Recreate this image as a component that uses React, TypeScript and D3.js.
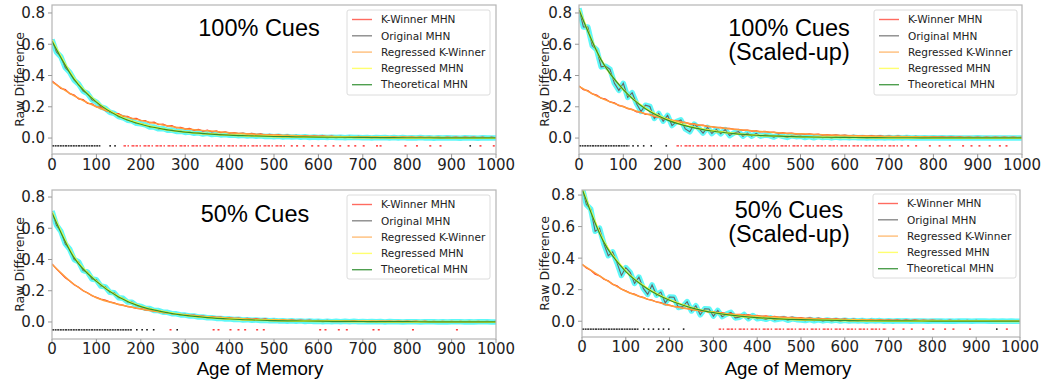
import * as d3 from 'd3'

// sample grids (age of memory)
const agesFine = d3.range(0, 1001, 10)
const agesCoarse = d3.range(0, 1001, 50)

const seriesNames = ['K-Winner MHN', 'Original MHN', 'Regressed K-Winner', 'Regressed MHN', 'Theoretical MHN']
const xTicks = [0, 100, 200, 300, 400, 500, 600, 700, 800, 900, 1000]
const yTicks = [0, 0.2, 0.4, 0.6, 0.8]

// ---- 100% Cues ----
const cues100Original = [
  0.63, 0.55, 0.52, 0.45, 0.42, 0.37, 0.345, 0.30, 0.285, 0.245, 0.23,
  0.20, 0.19, 0.165, 0.158, 0.137, 0.13, 0.114, 0.11, 0.094, 0.091,
  0.085, 0.071, 0.07, 0.059, 0.061, 0.05, 0.051, 0.042, 0.044, 0.036,
  0.038, 0.031, 0.034, 0.026, 0.03, 0.023, 0.026, 0.02, 0.023, 0.018,
  0.019, 0.015, 0.018, 0.013, 0.016, 0.012, 0.014, 0.010, 0.012, 0.009,
  0.011, 0.007, 0.010, 0.006, 0.009, 0.005, 0.008, 0.004, 0.007, 0.004,
  0.006, 0.003, 0.006, 0.003, 0.005, 0.002, 0.005, 0.003, 0.004, 0.002,
  0.004, 0.001, 0.004, 0.002, 0.003, 0.001, 0.003, 0.000, 0.003, 0.001,
  0.002, 0.000, 0.003, 0.001, 0.002, -0.001, 0.002, 0.000, 0.002, 0.000,
  0.001, -0.001, 0.002, 0.000, 0.001, -0.001, 0.002, 0.000, 0.001, 0.000
]
const cues100KWinner = [
  0.365, 0.342, 0.318, 0.31, 0.284, 0.275, 0.25, 0.246, 0.222, 0.218, 0.20,
  0.196, 0.176, 0.173, 0.156, 0.156, 0.139, 0.139, 0.124, 0.126, 0.112,
  0.111, 0.098, 0.101, 0.086, 0.089, 0.076, 0.079, 0.066, 0.068, 0.058,
  0.061, 0.05, 0.055, 0.045, 0.05, 0.04, 0.045, 0.035, 0.039, 0.032,
  0.035, 0.028, 0.032, 0.025, 0.03, 0.022, 0.026, 0.019, 0.023, 0.017,
  0.021, 0.014, 0.019, 0.012, 0.017, 0.011, 0.015, 0.009, 0.014, 0.010,
  0.013, 0.007, 0.012, 0.006, 0.011, 0.006, 0.010, 0.005, 0.010, 0.006,
  0.009, 0.004, 0.009, 0.003, 0.008, 0.004, 0.008, 0.003, 0.007, 0.004,
  0.007, 0.002, 0.007, 0.002, 0.006, 0.003, 0.006, 0.001, 0.006, 0.002,
  0.006, 0.001, 0.005, 0.002, 0.005, 0.001, 0.005, 0.000, 0.005, 0.001
]
const cues100RegKW = [0.36, 0.27, 0.2, 0.15, 0.113, 0.084, 0.06, 0.046, 0.034, 0.026, 0.019, 0.015, 0.012, 0.009, 0.007, 0.006, 0.005, 0.004, 0.003, 0.003, 0.002]
const cues100RegMHN = [0.625, 0.38, 0.232, 0.142, 0.09, 0.058, 0.039, 0.027, 0.019, 0.014, 0.010, 0.008, 0.006, 0.005, 0.004, 0.003, 0.002, 0.002, 0.001, 0.001, 0.001]
const cues100Theory = [0.62, 0.375, 0.23, 0.14, 0.088, 0.057, 0.038, 0.027, 0.019, 0.014, 0.010, 0.008, 0.006, 0.005, 0.004, 0.003, 0.002, 0.002, 0.001, 0.001, 0.0005]
const cues100BlackRuns = [[0, 109]]
const cues100BlackDots = [131, 142, 942]
const cues100RedRuns = [[161, 529]]
const cues100RedDots = [540, 552, 567, 586, 600, 616, 634, 649, 668, 683, 702, 732, 740, 796, 822, 852, 875, 965, 995]

// ---- 100% Cues (Scaled-up) ----
const scaled100Original = [
  0.83, 0.71, 0.71, 0.59, 0.565, 0.455, 0.46, 0.44, 0.35, 0.305, 0.35,
  0.26, 0.29, 0.22, 0.17, 0.21, 0.202, 0.126, 0.157, 0.108, 0.145,
  0.08, 0.105, 0.116, 0.058, 0.04, 0.089, 0.063, 0.032, 0.068, 0.029,
  0.055, 0.027, 0.054, 0.016, 0.033, 0.041, 0.012, 0.032, 0.012, 0.03,
  0.012, 0.02, 0.016, 0.006, 0.019, 0.011, 0.004, 0.015, 0.009, 0.012,
  0.003, 0.01, 0.002, 0.009, 0.003, 0.007, 0.001, 0.007, 0.002, 0.005,
  0.001, 0.005, 0.002, 0.004, 0.000, 0.004, 0.001, 0.003, 0.000, 0.003,
  0.001, 0.003, 0.000, 0.003, 0.001, 0.002, 0.000, 0.002, 0.001, 0.002,
  0.000, 0.002, 0.001, 0.002, 0.000, 0.001, 0.001, 0.001, 0.000, 0.002,
  0.001, 0.001, 0.000, 0.001, 0.001, 0.001, 0.000, 0.001, 0.001, 0.000
]
const scaled100KWinner = [
  0.333, 0.31, 0.303, 0.282, 0.275, 0.255, 0.249, 0.231, 0.225, 0.208, 0.203,
  0.188, 0.183, 0.168, 0.166, 0.152, 0.151, 0.137, 0.136, 0.124, 0.122,
  0.112, 0.11, 0.1, 0.1, 0.09, 0.091, 0.082, 0.083, 0.074, 0.073,
  0.067, 0.068, 0.061, 0.062, 0.055, 0.056, 0.049, 0.051, 0.044, 0.045,
  0.04, 0.042, 0.036, 0.038, 0.032, 0.034, 0.029, 0.032, 0.026, 0.028,
  0.024, 0.027, 0.022, 0.025, 0.019, 0.022, 0.017, 0.02, 0.015, 0.018,
  0.014, 0.017, 0.012, 0.016, 0.011, 0.015, 0.010, 0.013, 0.009, 0.012,
  0.008, 0.012, 0.007, 0.011, 0.006, 0.010, 0.006, 0.009, 0.005, 0.008,
  0.005, 0.008, 0.004, 0.007, 0.004, 0.007, 0.003, 0.006, 0.003, 0.006,
  0.003, 0.006, 0.002, 0.005, 0.002, 0.005, 0.002, 0.005, 0.002, 0.004
]
const scaled100RegKW = [0.33, 0.255, 0.2, 0.155, 0.12, 0.093, 0.072, 0.056, 0.044, 0.034, 0.027, 0.021, 0.016, 0.013, 0.01, 0.008, 0.006, 0.005, 0.004, 0.003, 0.003]
const scaled100RegMHN = [0.825, 0.5, 0.31, 0.19, 0.118, 0.074, 0.046, 0.029, 0.018, 0.012, 0.008, 0.005, 0.004, 0.003, 0.002, 0.002, 0.001, 0.001, 0.001, 0.001, 0.0005]
const scaled100Theory = [0.82, 0.5, 0.31, 0.187, 0.115, 0.072, 0.045, 0.028, 0.018, 0.012, 0.008, 0.005, 0.004, 0.003, 0.002, 0.002, 0.001, 0.001, 0.001, 0.0005, 0.0005]
const scaled100BlackRuns = [[0, 114]]
const scaled100BlackDots = [122, 133, 146, 163, 197]
const scaled100RedRuns = [[220, 731]]
const scaled100RedDots = [743, 761, 792, 814, 837, 867, 886, 904, 927, 950, 965]

// ---- 50% Cues ----
const cues50Original = [
  0.71, 0.62, 0.58, 0.50, 0.465, 0.40, 0.385, 0.33, 0.32, 0.275, 0.27,
  0.23, 0.225, 0.19, 0.187, 0.155, 0.152, 0.128, 0.127, 0.105, 0.10,
  0.088, 0.087, 0.074, 0.073, 0.063, 0.062, 0.053, 0.052, 0.045, 0.044,
  0.038, 0.038, 0.032, 0.032, 0.027, 0.027, 0.023, 0.023, 0.019, 0.02,
  0.016, 0.017, 0.013, 0.015, 0.011, 0.013, 0.009, 0.011, 0.008, 0.010,
  0.007, 0.008, 0.005, 0.008, 0.004, 0.007, 0.003, 0.006, 0.003, 0.005,
  0.002, 0.005, 0.002, 0.004, 0.002, 0.004, 0.001, 0.004, 0.001, 0.003,
  0.001, 0.003, 0.001, 0.003, 0.000, 0.003, 0.001, 0.002, 0.000, 0.002,
  0.001, 0.002, 0.000, 0.002, 0.001, 0.002, 0.000, 0.002, 0.000, 0.001,
  0.001, 0.001, 0.000, 0.002, 0.000, 0.001, 0.001, 0.001, 0.000, 0.000
]
const cues50KWinner = [
  0.372, 0.34, 0.312, 0.283, 0.263, 0.238, 0.222, 0.2, 0.187, 0.168, 0.157,
  0.146, 0.14, 0.129, 0.123, 0.111, 0.108, 0.098, 0.095, 0.087, 0.085,
  0.077, 0.076, 0.069, 0.068, 0.06, 0.06, 0.053, 0.054, 0.047, 0.048,
  0.042, 0.043, 0.037, 0.038, 0.033, 0.034, 0.029, 0.031, 0.025, 0.027,
  0.022, 0.025, 0.019, 0.023, 0.017, 0.021, 0.015, 0.019, 0.013, 0.017,
  0.012, 0.015, 0.010, 0.014, 0.009, 0.012, 0.008, 0.011, 0.007, 0.010,
  0.006, 0.010, 0.005, 0.009, 0.005, 0.008, 0.004, 0.008, 0.004, 0.007,
  0.003, 0.007, 0.003, 0.006, 0.003, 0.006, 0.002, 0.006, 0.002, 0.005,
  0.002, 0.005, 0.001, 0.005, 0.001, 0.004, 0.001, 0.004, 0.001, 0.004,
  0.001, 0.004, 0.000, 0.003, 0.001, 0.003, 0.000, 0.003, 0.000, 0.003
]
const cues50RegKW = [0.37, 0.24, 0.155, 0.113, 0.083, 0.061, 0.045, 0.033, 0.025, 0.018, 0.013, 0.01, 0.008, 0.006, 0.005, 0.004, 0.003, 0.002, 0.002, 0.001, 0.001]
const cues50RegMHN = [0.705, 0.415, 0.262, 0.162, 0.1, 0.066, 0.043, 0.028, 0.019, 0.013, 0.009, 0.007, 0.005, 0.004, 0.003, 0.002, 0.002, 0.001, 0.001, 0.001, 0.0005]
const cues50Theory = [0.70, 0.41, 0.26, 0.16, 0.098, 0.065, 0.042, 0.028, 0.019, 0.013, 0.009, 0.007, 0.005, 0.004, 0.003, 0.002, 0.002, 0.001, 0.001, 0.001, 0.0005]
const cues50BlackRuns = [[0, 180]]
const cues50BlackDots = [191, 203, 214, 229, 282]
const cues50RedRuns: number[][] = []
const cues50RedDots = [267, 364, 375, 402, 420, 435, 462, 477, 604, 616, 646, 664, 724, 736, 813, 912]

// ---- 50% Cues (Scaled-up) ----
const scaled50Original = [
  0.85, 0.74, 0.71, 0.57, 0.59, 0.49, 0.415, 0.44, 0.37, 0.29, 0.34,
  0.31, 0.24, 0.28, 0.208, 0.17, 0.23, 0.165, 0.185, 0.116, 0.153,
  0.152, 0.087, 0.093, 0.124, 0.065, 0.098, 0.041, 0.079, 0.078, 0.032,
  0.068, 0.029, 0.045, 0.056, 0.021, 0.025, 0.043, 0.016, 0.036, 0.016,
  0.02, 0.012, 0.022, 0.009, 0.014, 0.018, 0.006, 0.015, 0.01, 0.008,
  0.004, 0.011, 0.003, 0.009, 0.002, 0.008, 0.002, 0.007, 0.001, 0.006,
  0.001, 0.005, 0.001, 0.005, 0.000, 0.004, 0.001, 0.004, 0.000, 0.003,
  0.000, 0.003, 0.001, 0.003, 0.000, 0.002, 0.001, 0.002, 0.000, 0.002,
  0.001, 0.002, 0.000, 0.002, 0.000, 0.001, 0.001, 0.001, 0.000, 0.001,
  0.001, 0.001, 0.000, 0.001, 0.000, 0.001, 0.000, 0.001, 0.000, 0.000
]
const scaled50KWinner = [
  0.362, 0.338, 0.323, 0.298, 0.288, 0.266, 0.256, 0.234, 0.224, 0.203, 0.193,
  0.178, 0.172, 0.158, 0.152, 0.139, 0.134, 0.122, 0.118, 0.106, 0.102,
  0.093, 0.091, 0.083, 0.082, 0.073, 0.073, 0.065, 0.066, 0.058, 0.06,
  0.052, 0.054, 0.046, 0.049, 0.041, 0.044, 0.037, 0.041, 0.033, 0.037,
  0.03, 0.034, 0.027, 0.031, 0.024, 0.028, 0.022, 0.026, 0.019, 0.023,
  0.017, 0.021, 0.015, 0.019, 0.013, 0.017, 0.012, 0.016, 0.010, 0.014,
  0.009, 0.013, 0.008, 0.012, 0.007, 0.011, 0.006, 0.010, 0.005, 0.009,
  0.005, 0.009, 0.004, 0.008, 0.004, 0.008, 0.003, 0.007, 0.003, 0.007,
  0.003, 0.006, 0.002, 0.006, 0.002, 0.005, 0.002, 0.005, 0.001, 0.005,
  0.001, 0.004, 0.001, 0.004, 0.001, 0.004, 0.001, 0.003, 0.000, 0.003
]
const scaled50RegKW = [0.36, 0.27, 0.19, 0.14, 0.10, 0.075, 0.057, 0.043, 0.033, 0.025, 0.019, 0.014, 0.011, 0.008, 0.006, 0.005, 0.004, 0.003, 0.002, 0.002, 0.001]
const scaled50RegMHN = [0.845, 0.505, 0.318, 0.207, 0.135, 0.086, 0.055, 0.035, 0.023, 0.015, 0.010, 0.007, 0.005, 0.003, 0.002, 0.002, 0.001, 0.001, 0.001, 0.0005, 0.0005]
const scaled50Theory = [0.84, 0.50, 0.315, 0.205, 0.133, 0.085, 0.054, 0.035, 0.023, 0.015, 0.010, 0.007, 0.005, 0.003, 0.002, 0.002, 0.001, 0.001, 0.001, 0.0005, 0.0005]
const scaled50BlackRuns = [[0, 129]]
const scaled50BlackDots = [141, 152, 163, 175, 186, 198, 232, 947]
const scaled50RedRuns = [[312, 696]]
const scaled50RedDots = [711, 734, 753, 779, 802, 829, 848, 886, 970]

const MARK_Y = -0.05

const COLORS = {
  kw: '#ff3b2b',
  orig: '#666666',
  band: '#19f5f5',
  regKW: '#ff9e3d',
  regMHN: '#ffff3a',
  theory: '#2f8f2f',
}
const LEGEND_COLORS = ['#ff6b60', '#8a8a8a', '#ffbe7a', '#ffff70', '#4f9f4f']

const panels = [
  {
    box: [52, 496, 5, 154], yDomain: [-0.102, 0.851],
    title: ['100% Cues'], titleX: 259, titleY: 36,
    legend: [347, 10], xLabel: false,
    orig: cues100Original, kw: cues100KWinner, regKW: cues100RegKW, regMHN: cues100RegMHN, theory: cues100Theory,
    blackRuns: cues100BlackRuns, blackDots: cues100BlackDots, redRuns: cues100RedRuns, redDots: cues100RedDots,
  },
  {
    box: [579, 1022, 5, 154], yDomain: [-0.102, 0.851],
    title: ['100% Cues', '(Scaled-up)'], titleX: 789, titleY: 36,
    legend: [874, 10], xLabel: false,
    orig: scaled100Original, kw: scaled100KWinner, regKW: scaled100RegKW, regMHN: scaled100RegMHN, theory: scaled100Theory,
    blackRuns: scaled100BlackRuns, blackDots: scaled100BlackDots, redRuns: scaled100RedRuns, redDots: scaled100RedDots,
  },
  {
    box: [52, 496, 190, 339], yDomain: [-0.109, 0.845],
    title: ['50% Cues'], titleX: 255, titleY: 222,
    legend: [347, 195], xLabel: true,
    orig: cues50Original, kw: cues50KWinner, regKW: cues50RegKW, regMHN: cues50RegMHN, theory: cues50Theory,
    blackRuns: cues50BlackRuns, blackDots: cues50BlackDots, redRuns: cues50RedRuns, redDots: cues50RedDots,
  },
  {
    box: [582, 1020, 190, 337], yDomain: [-0.10, 0.832],
    title: ['50% Cues', '(Scaled-up)'], titleX: 789, titleY: 218,
    legend: [873, 194], xLabel: true,
    orig: scaled50Original, kw: scaled50KWinner, regKW: scaled50RegKW, regMHN: scaled50RegMHN, theory: scaled50Theory,
    blackRuns: scaled50BlackRuns, blackDots: scaled50BlackDots, redRuns: scaled50RedRuns, redDots: scaled50RedDots,
  },
]

const tickFont = 'DejaVu Sans, sans-serif'
const titleFont = 'Liberation Sans, Arial, sans-serif'

function Panel({ p }: { p: any }) {
  const [x0, x1, y0, y1] = p.box
  const x = d3.scaleLinear().domain([0, 1000]).range([x0, x1])
  const y = d3.scaleLinear().domain(p.yDomain).range([y1, y0])

  const fine = d3.line<number>().x((_, i) => x(agesFine[i])).y((d) => y(d))
  const smooth = d3.line<number>().x((_, i) => x(agesCoarse[i])).y((d) => y(d)).curve(d3.curveMonotoneX)

  const isLeft = x0 < 300
  const yLabelX = isLeft ? 24 : 549
  const lx = p.legend[0]
  const ly = p.legend[1]
  const tickBase = p.xLabel ? 15 : 16

  return (
    <g>
      <defs>
        <clipPath id={`clip-${x0}-${y0}`}>
          <rect x={x0} y={y0} width={x1 - x0} height={y1 - y0} />
        </clipPath>
      </defs>
      <g clipPath={`url(#clip-${x0}-${y0})`}>
        <path d={fine(p.orig) || ''} fill="none" stroke={COLORS.band} strokeWidth={5.5} strokeOpacity={0.7} strokeLinejoin="round" />
        <path d={fine(p.orig) || ''} fill="none" stroke={COLORS.orig} strokeWidth={1.1} />
        <path d={fine(p.kw) || ''} fill="none" stroke={COLORS.kw} strokeWidth={1.3} />
        <path d={smooth(p.regKW) || ''} fill="none" stroke={COLORS.regKW} strokeWidth={1.5} />
        <path d={smooth(p.regMHN) || ''} fill="none" stroke={COLORS.regMHN} strokeWidth={2} />
        <path d={smooth(p.theory) || ''} fill="none" stroke={COLORS.theory} strokeWidth={1.2} />
        {p.blackRuns.map((r: number[], i: number) => (
          <line key={`br${i}`} x1={x(r[0])} x2={x(r[1])} y1={y(MARK_Y)} y2={y(MARK_Y)} stroke="#000" strokeWidth={1.3} strokeDasharray="2 0.6" />
        ))}
        {p.blackDots.map((d: number, i: number) => (
          <rect key={`bd${i}`} x={x(d) - 0.8} y={y(MARK_Y) - 0.7} width={1.6} height={1.4} fill="#000" />
        ))}
        {p.redRuns.map((r: number[], i: number) => (
          <line key={`rr${i}`} x1={x(r[0])} x2={x(r[1])} y1={y(MARK_Y)} y2={y(MARK_Y)} stroke="#ff2a2a" strokeWidth={1.3} strokeDasharray="2.5 1.5 1.5 2.5 3 1" />
        ))}
        {p.redDots.map((d: number, i: number) => (
          <rect key={`rd${i}`} x={x(d) - 1} y={y(MARK_Y) - 0.7} width={2} height={1.4} fill="#ff2a2a" />
        ))}
      </g>

      {/* frame */}
      <rect x={x0} y={y0} width={x1 - x0} height={y1 - y0} fill="none" stroke="#b5b5b5" strokeWidth={1.2} />

      {/* y axis */}
      {yTicks.map((t) => (
        <g key={`yt${t}`}>
          <line x1={x0 - 4} x2={x0} y1={y(t)} y2={y(t)} stroke="#999" strokeWidth={1} />
          <text x={x0 - 7} y={y(t)} dy="0.36em" textAnchor="end" fontFamily={tickFont} fontSize={15} fill="#222">
            {d3.format('.1f')(t)}
          </text>
        </g>
      ))}
      {/* x axis */}
      {xTicks.map((t) => (
        <g key={`xt${t}`}>
          <line x1={x(t)} x2={x(t)} y1={y1} y2={y1 + 4} stroke="#999" strokeWidth={1} />
          <text x={x(t)} y={y1 + tickBase} textAnchor="middle" fontFamily={tickFont} fontSize={15} fill="#222">
            {t}
          </text>
        </g>
      ))}
      <text transform={`translate(${yLabelX},${(y0 + y1) / 2}) rotate(-90)`} textAnchor="middle" fontFamily={tickFont} fontSize={12.5} fill="#222">
        Raw Difference
      </text>

      {/* title */}
      {p.title.map((t: string, i: number) => (
        <text key={t} x={p.titleX} y={p.titleY + i * 24} textAnchor="middle" fontFamily={titleFont} fontSize={23.5} fill="#000">
          {t}
        </text>
      ))}

      {/* legend */}
      <rect x={lx} y={ly} width={143} height={p.xLabel ? 84 : 85} rx={2} fill="#fff" fillOpacity={0.85} stroke="#dcdcdc" strokeWidth={1} />
      {seriesNames.map((name, i) => (
        <g key={name}>
          <line x1={lx + 5} x2={lx + 25} y1={ly + 9.5 + i * 16.3} y2={ly + 9.5 + i * 16.3} stroke={LEGEND_COLORS[i]} strokeWidth={1.4} />
          <text x={lx + 34} y={ly + 9.5 + i * 16.3} dy="0.36em" fontFamily={tickFont} fontSize={10.5} fill="#222">
            {name}
          </text>
        </g>
      ))}

      {p.xLabel && (
        <text x={isLeft ? 260 : 788} y={375} textAnchor="middle" fontFamily={titleFont} fontSize={18.7} fill="#000">
          Age of Memory
        </text>
      )}
    </g>
  )
}

export default function App() {
  return (
    <svg width={1051} height={381} style={{ position: 'absolute', left: 0, top: 0, background: '#fff' }}>
      {panels.map((p, i) => (
        <Panel key={i} p={p} />
      ))}
    </svg>
  )
}
